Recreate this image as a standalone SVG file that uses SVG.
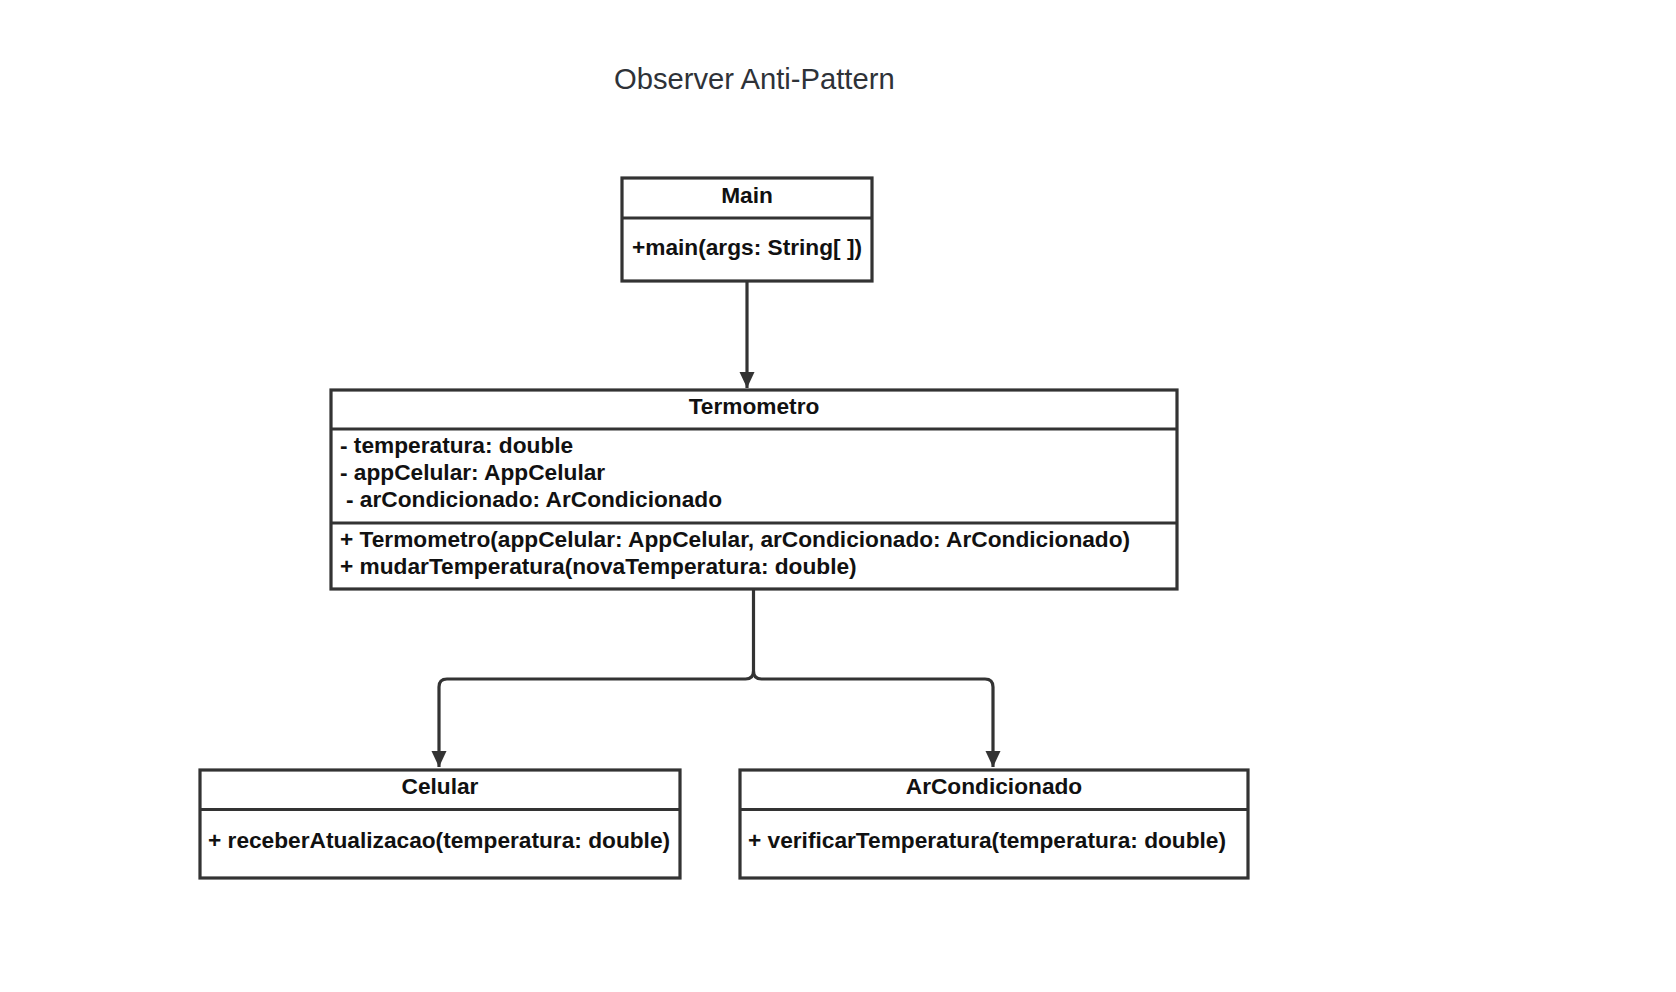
<svg xmlns="http://www.w3.org/2000/svg" width="1676" height="992" viewBox="0 0 1676 992">
<defs>
<style>
.box{fill:#fff;stroke:#333;stroke-width:3.2}
.div{stroke:#333;stroke-width:3.2}
.t{font-family:"Liberation Sans",Arial,sans-serif;font-weight:bold;font-size:22.7px;fill:#111}
.c{text-anchor:middle}
.edge{fill:none;stroke:#333;stroke-width:3.2}
.title{font-family:"Liberation Sans",Arial,sans-serif;font-size:29.2px;fill:#2e3238}
</style>
<marker id="arr" viewBox="0 0 16 16" refX="16" refY="8" markerWidth="16" markerHeight="16" markerUnits="userSpaceOnUse" orient="auto">
<path d="M0,0.5 L16,8 L0,15.5 Z" fill="#333"/>
</marker>
</defs>
<rect width="1676" height="992" fill="#fff"/>
<text class="title" x="614" y="89">Observer Anti-Pattern</text>

<g id="connectors">
<path class="edge" d="M747,281 V388" marker-end="url(#arr)"/>
<path class="edge" d="M753.5,589 V671 Q753.5,679 745.5,679 H447 Q439,679 439,687 V767" marker-end="url(#arr)"/>
<path class="edge" d="M753.5,671 Q753.5,679 761.5,679 H985 Q993,679 993,687 V767" marker-end="url(#arr)"/>
</g>

<g id="main">
<rect class="box" x="622" y="178" width="250" height="103"/>
<line class="div" x1="622" y1="218" x2="872" y2="218"/>
<text class="t c" x="747" y="203">Main</text>
<text class="t" x="632" y="255">+main(args: String[ ])</text>
</g>

<g id="termometro">
<rect class="box" x="331" y="390" width="846" height="199"/>
<line class="div" x1="331" y1="429" x2="1177" y2="429"/>
<line class="div" x1="331" y1="523" x2="1177" y2="523"/>
<text class="t c" x="754" y="414">Termometro</text>
<text class="t" x="340" y="452.5">- temperatura: double</text>
<text class="t" x="340" y="480">- appCelular: AppCelular</text>
<text class="t" x="346" y="507">- arCondicionado: ArCondicionado</text>
<text class="t" x="340" y="546.5">+ Termometro(appCelular: AppCelular, arCondicionado: ArCondicionado)</text>
<text class="t" x="340" y="574">+ mudarTemperatura(novaTemperatura: double)</text>
</g>

<g id="celular">
<rect class="box" x="200" y="770" width="480" height="108"/>
<line class="div" x1="200" y1="809.5" x2="680" y2="809.5"/>
<text class="t c" x="440" y="794">Celular</text>
<text class="t" x="208" y="848">+ receberAtualizacao(temperatura: double)</text>
</g>

<g id="arcondicionado">
<rect class="box" x="740" y="770" width="508" height="108"/>
<line class="div" x1="740" y1="809.5" x2="1248" y2="809.5"/>
<text class="t c" x="994" y="794">ArCondicionado</text>
<text class="t" x="748" y="848">+ verificarTemperatura(temperatura: double)</text>
</g>
</svg>
